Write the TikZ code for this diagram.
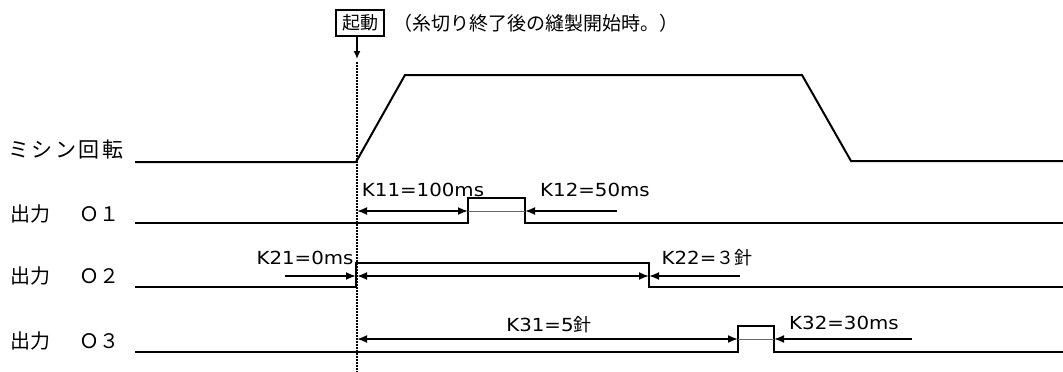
\documentclass[tikz,border=0pt]{standalone}
\usepackage{fontspec}
\setmainfont{Noto Sans CJK JP}
\newfontfamily\kfont[FakeStretch=1.1]{DejaVu Sans}
\newfontfamily\cjk{Noto Sans CJK JP}
\newfontfamily\widecjk[LetterSpace=12]{Noto Sans CJK JP}
\usetikzlibrary{arrows.meta}
\begin{document}
\begin{tikzpicture}[x=1pt,y=-1pt,
  wave/.style={line width=2pt, line join=miter},
  dimone/.style={line width=1.8pt, -{Latex[length=10pt,width=8pt]}},
  dimtwo/.style={line width=1.8pt, {Latex[length=10pt,width=8pt]}-{Latex[length=10pt,width=8pt]}},
  thinline/.style={line width=0.5pt, black!60},
  sig/.style={font=\fontsize{20}{20}\selectfont, anchor=west, inner sep=0pt},
  klbl/.style={font=\kfont\fontsize{18}{18}\selectfont, inner sep=0pt}]
\useasboundingbox (0,0) rectangle (1063,372);

% start box and note
\node[draw, line width=1.2pt, minimum width=48pt, minimum height=26pt, inner sep=0pt,
      font=\fontsize{18}{18}\selectfont] (start) at (360,23) {起動};
\node[anchor=west, inner sep=0pt, font=\fontsize{19}{19}\selectfont] (note) at (393,23) {（糸切り終了後の縫製開始時。）};
\coordinate (st) at (357,36);
\coordinate (stend) at (357,59);
\draw[line width=1.5pt, -{Latex[length=8pt,width=7pt]}] (st) -- (stend);
\coordinate (dtop) at (357,62);
\coordinate (dbot) at (357,372);
\draw[line width=1.2pt, dash pattern=on 1.5pt off 1.5pt] (dtop) -- (dbot);

% labels
\node[sig, font=\widecjk\fontsize{21}{21}\selectfont] (lrot) at (8,150) {ミシン回転};
\node[sig] (l1) at (10,214) {出力\hspace{29pt}Ｏ１};
\node[sig] (l2) at (10,276) {出力\hspace{29pt}Ｏ２};
\node[sig] (l3) at (10,341) {出力\hspace{29pt}Ｏ３};

% rotation
\draw[wave] (135,162) -- (356,162) -- (405,75) -- (802,75) -- (851,161) -- (1063,161);

% O1
\coordinate (a1) at (357,211);
\coordinate (p1s) at (468,211);
\coordinate (p1e) at (525,211);
\coordinate (k12s) at (617,211);
\draw[wave] (135,223) -- (468,223) -- (468,198) -- (525,198) -- (525,223) -- (1063,223);
\draw[dimtwo] (a1) -- (p1s);
\draw[dimone] (k12s) -- (p1e);
\draw[thinline] (p1s) -- (p1e);
\node[klbl] (k11) at (423,190) {K11=100ms};
\node[klbl] (k12) at (595,190) {K12=50ms};

% O2
\coordinate (k21s) at (285,276);
\coordinate (a2) at (356,276);
\coordinate (a2b) at (357,276);
\coordinate (p2e) at (649,276);
\coordinate (k22s) at (740,276);
\draw[wave] (135,287) -- (356,287) -- (356,263) -- (649,263) -- (649,287) -- (1063,287);
\draw[dimone] (k21s) -- (a2);
\draw[dimtwo] (a2b) -- (p2e);
\draw[dimone] (k22s) -- (p2e);
\node[klbl] (k21) at (305,258) {K21=0ms};
\node[klbl] (k22) at (707,258) {K22={\cjk ３針}};

% O3
\coordinate (a3) at (357,339);
\coordinate (p3s) at (738,339);
\coordinate (p3e) at (774,339);
\coordinate (k32s) at (912,339);
\draw[wave] (135,352) -- (738,352) -- (738,326) -- (774,326) -- (774,352) -- (1063,352);
\draw[dimtwo] (a3) -- (p3s);
\draw[dimone] (k32s) -- (p3e);
\draw[thinline] (p3s) -- (p3e);
\node[klbl] (k31) at (549,325) {K31=5{\cjk 針}};
\node[klbl] (k32) at (844,323) {K32=30ms};
\end{tikzpicture}
\end{document}
